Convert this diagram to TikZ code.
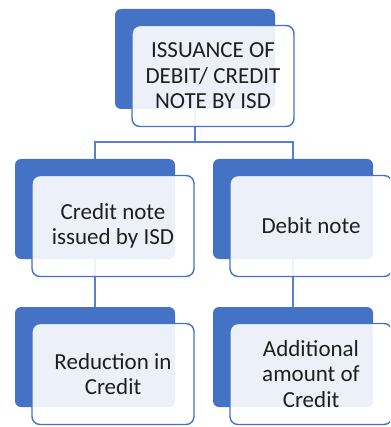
\documentclass[tikz,border=0pt]{standalone}
\usepackage{fontspec}
\setmainfont{Carlito}
\usetikzlibrary{calc,positioning}
\definecolor{smblue}{HTML}{4472C4}
\definecolor{ink}{HTML}{1F1F1F}

\begin{document}
\begin{tikzpicture}[x=1pt,y=-1pt,
  back/.style={fill=smblue,rounded corners=6pt,minimum width=160pt,minimum height=100pt,inner sep=0pt},
  front/.style={draw=smblue,line width=1.4pt,fill=white,fill opacity=.9,text opacity=1,rounded corners=8pt,
    minimum width=162pt,minimum height=101pt,inner sep=0pt,align=center,text=ink,font=\fontsize{23}{25.5}\selectfont},
  conn/.style={draw=smblue!90,line width=1.6pt}]
\clip (0,0) rectangle (390,427);
\foreach \n/\x/\y in {top/195/59,ml/95/209,mr/293/209,bl/95/357,br/293/357}
  \node[back] (b\n) at (\x,\y) {};
% connectors sit behind the light boxes
\coordinate (split) at (195,142);
\draw[conn] (btop.south) -- (split) -| (bml.north);
\draw[conn] (split) -| (bmr.north);
\draw[conn] (bml.south) -- (bbl.north);
\draw[conn] (bmr.south) -- (bbr.north);
\foreach \n/\txt in {top/{ISSUANCE OF\\DEBIT/ CREDIT\\NOTE BY ISD},ml/{Credit note\\issued by ISD},mr/{Debit note},
    bl/{Reduction in\\Credit},br/{Additional\\amount of\\Credit}}
  \node[front] (f\n) at ($(b\n)+(18,17)$) {\txt};
\end{tikzpicture}
\end{document}
